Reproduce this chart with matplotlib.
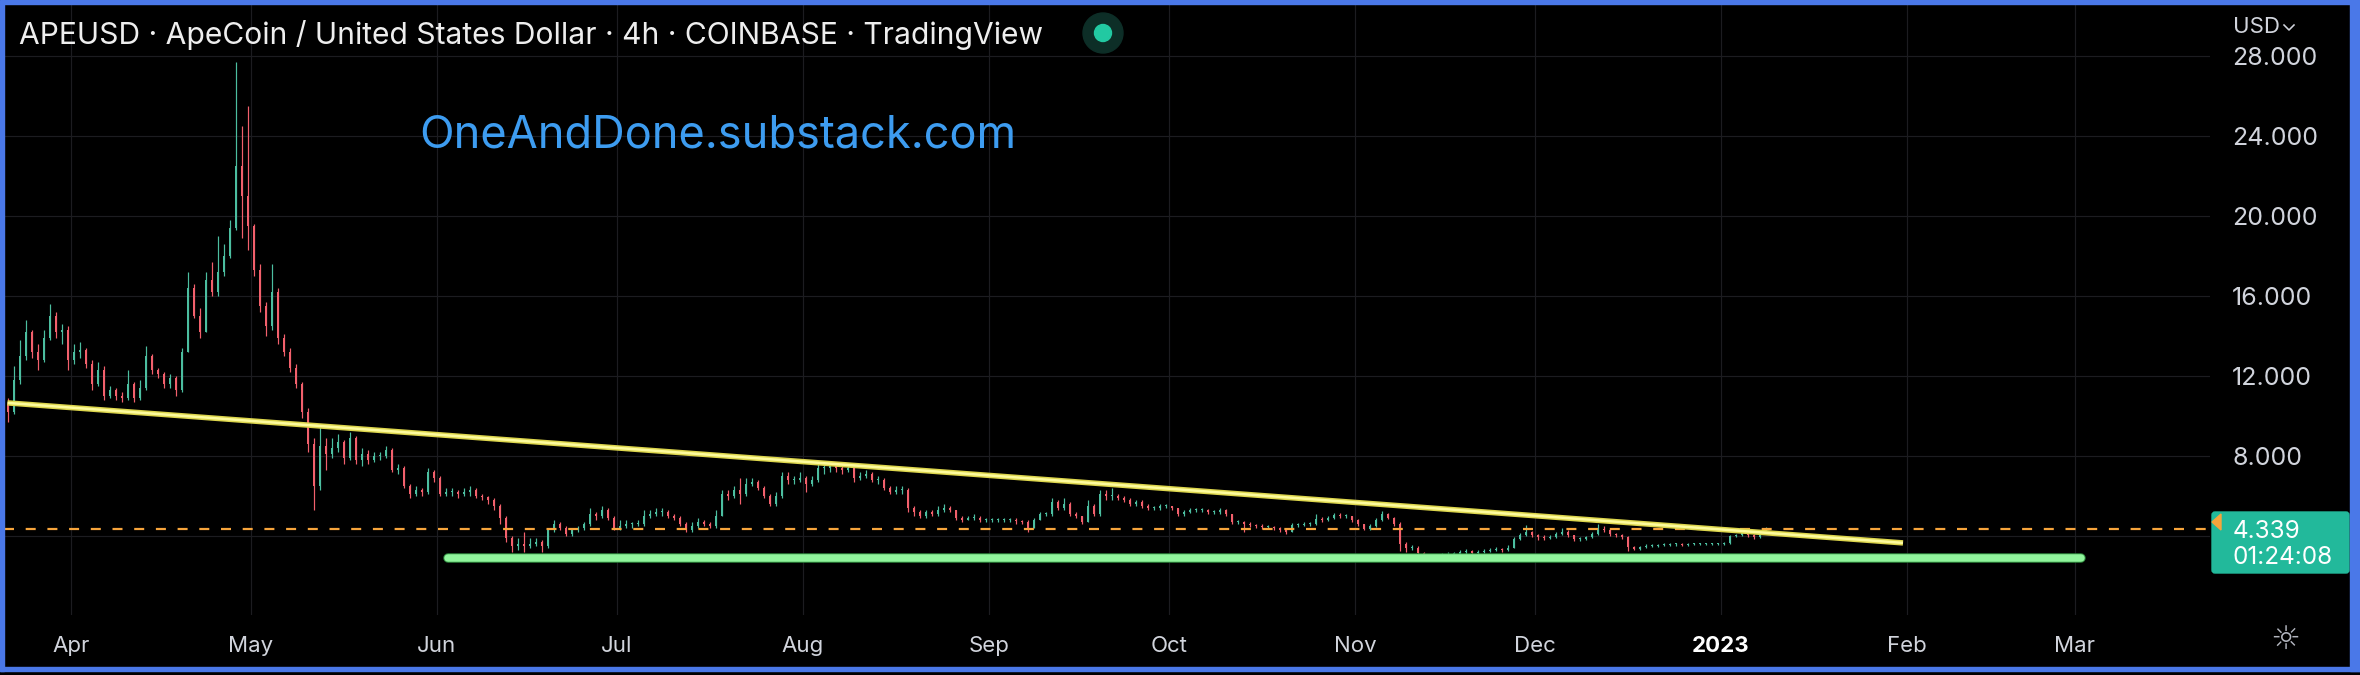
import numpy as np
import matplotlib
matplotlib.use('Agg')
import matplotlib.pyplot as plt
import matplotlib.dates as mdates
from matplotlib.patches import Rectangle, Circle, Polygon, FancyBboxPatch
from matplotlib.transforms import IdentityTransform

# ---- data (daily candles) ----
start_day = '2022-03-21'
first_open = 10.6

closes = [
    10.2, 11.8, 13.0, 14.2, 13.2, 12.8, 13.9, 15.0, 14.2, 14.3, 12.8,  # Mar 21-31
    13.2, 13.3, 12.6, 11.6, 12.3, 11.0, 11.3, 11.0, 10.9, 11.6, 10.9, 11.4, 13.0, 12.3, 12.1,
    11.6, 11.9, 11.3, 13.2, 16.4, 15.0, 14.2, 16.8, 16.2, 17.2, 18.0, 19.4, 22.5, 21.0, 19.5,  # Apr
    17.3, 15.5, 14.5, 16.2, 13.9, 13.2, 12.4, 11.6, 10.2, 8.6, 6.5, 8.5, 8.1, 8.4, 8.7, 7.9,
    8.9, 7.8, 8.1, 7.8, 8.0, 8.0, 8.3, 7.3, 7.4, 6.5, 6.1, 6.3, 6.2, 7.2, 6.9,  # May
    6.1, 6.2, 6.2, 6.1, 6.2, 6.3, 6.0, 5.95, 5.8, 5.5, 4.9, 3.9, 3.5, 3.6, 3.5,
    3.6, 3.7, 3.5, 4.3, 4.6, 4.4, 4.1, 4.3, 4.4, 4.6, 5.1, 5.0, 5.3, 4.9, 4.4,  # Jun
    4.5, 4.6, 4.6, 4.6, 5.0, 5.1, 5.2, 5.2, 5.0, 4.9, 4.6, 4.3, 4.5, 4.7, 4.6, 4.5,
    5.0, 6.1, 6.0, 6.3, 6.1, 6.6, 6.7, 6.4, 6.0, 5.6, 6.0, 7.0, 6.8, 6.8, 6.9,  # Jul
    6.6, 6.8, 7.4, 7.4, 7.5, 7.4, 7.3, 7.4, 6.9, 7.0, 7.1, 6.8, 6.8, 6.4, 6.2, 6.3,
    6.3, 5.4, 5.2, 5.0, 5.2, 5.1, 5.3, 5.4, 5.3, 4.9, 4.8, 4.9, 4.9, 4.8, 4.8,  # Aug
    4.8, 4.8, 4.8, 4.8, 4.75, 4.7, 4.4, 4.8, 5.1, 5.1, 5.7, 5.4, 5.6, 5.1, 5.0,
    4.7, 5.5, 5.1, 6.1, 6.0, 6.0, 5.9, 5.8, 5.6, 5.7, 5.5, 5.4, 5.4, 5.5, 5.5,  # Sep
    5.4, 5.1, 5.2, 5.3, 5.3, 5.3, 5.2, 5.2, 5.3, 5.1, 4.7, 4.7, 4.6, 4.55, 4.5, 4.45,
    4.45, 4.4, 4.3, 4.2, 4.55, 4.55, 4.6, 4.6, 4.85, 4.8, 4.9, 5.05, 5.0, 5.0, 4.8,  # Oct
    4.6, 4.35, 4.5, 4.8, 5.1, 4.9, 4.6, 3.6, 3.4, 3.4, 3.15, 3.0, 2.95, 3.0, 3.05,
    3.1, 3.1, 3.2, 3.25, 3.15, 3.2, 3.25, 3.3, 3.35, 3.3, 3.4, 3.85, 4.05, 4.2, 4.05,  # Nov
    3.95, 3.9, 3.95, 4.1, 4.2, 4.05, 3.85, 3.85, 3.95, 4.1, 4.35, 4.3, 4.1, 4.05, 3.95, 3.45,
    3.35, 3.45, 3.5, 3.5, 3.55, 3.55, 3.6, 3.6, 3.55, 3.6, 3.6, 3.6, 3.6, 3.6, 3.6,  # Dec
    3.65, 4.0, 4.05, 4.15, 4.05, 3.95, 4.15, 4.339,  # Jan 1-8
]

highs = [
    10.9, 12.5, 13.8, 14.8, 14.3, 13.6, 14.3, 15.6, 15.2, 14.6, 14.5,
    13.6, 13.7, 13.4, 12.8, 12.7, 12.5, 11.5, 11.4, 11.2, 12.3, 11.7, 11.8, 13.5, 13.1, 12.4,
    12.2, 12.1, 12.0, 13.4, 17.2, 16.6, 15.4, 17.2, 17.7, 19.0, 18.6, 19.8, 27.7, 24.5, 25.5,
    19.6, 17.6, 15.7, 17.6, 16.4, 14.1, 13.4, 12.6, 11.7, 10.4, 8.9, 9.6, 8.9, 8.9, 9.1, 8.8,
    9.2, 9.0, 8.4, 8.3, 8.2, 8.2, 8.5, 8.4, 7.6, 7.5, 6.6, 6.5, 6.4, 7.4, 7.3,
    7.0, 6.4, 6.4, 6.3, 6.4, 6.5, 6.4, 6.1, 6.0, 5.9, 5.6, 5.0, 4.0, 3.9, 4.2,
    3.9, 3.9, 3.8, 4.4, 4.8, 4.7, 4.5, 4.4, 4.5, 4.7, 5.4, 5.2, 5.5, 5.4, 5.0,
    4.8, 4.8, 4.7, 4.8, 5.3, 5.3, 5.4, 5.4, 5.3, 5.1, 5.0, 4.7, 4.7, 4.9, 4.8, 4.7,
    5.3, 6.3, 6.3, 6.5, 6.9, 6.9, 6.9, 6.8, 6.5, 6.1, 6.2, 7.2, 7.2, 7.0, 7.2,
    7.0, 7.0, 7.7, 7.6, 7.7, 7.6, 7.5, 7.6, 7.5, 7.2, 7.3, 7.2, 7.0, 6.9, 6.5, 6.5,
    6.5, 6.4, 5.5, 5.3, 5.3, 5.3, 5.5, 5.6, 5.5, 5.3, 5.0, 5.0, 5.1, 5.0, 4.9,
    4.9, 4.9, 4.9, 4.9, 4.9, 4.8, 4.8, 4.9, 5.2, 5.2, 5.9, 5.8, 5.9, 5.7, 5.2,
    5.0, 5.8, 5.6, 6.3, 6.3, 6.4, 6.1, 6.0, 5.9, 5.8, 5.8, 5.6, 5.5, 5.6, 5.6,
    5.5, 5.4, 5.3, 5.4, 5.4, 5.4, 5.35, 5.3, 5.4, 5.35, 5.1, 4.8, 4.75, 4.7, 4.6, 4.6,
    4.55, 4.5, 4.45, 4.35, 4.65, 4.65, 4.7, 4.7, 5.1, 4.95, 5.0, 5.15, 5.15, 5.1, 5.0,
    4.85, 4.6, 4.6, 4.9, 5.25, 5.15, 4.95, 4.7, 3.7, 3.55, 3.5, 3.2, 3.05, 3.1, 3.15,
    3.2, 3.2, 3.3, 3.35, 3.3, 3.3, 3.35, 3.4, 3.45, 3.4, 3.55, 3.95, 4.15, 4.55, 4.25,
    4.1, 4.05, 4.05, 4.2, 4.4, 4.3, 4.05, 3.95, 4.0, 4.2, 4.6, 4.5, 4.35, 4.15, 4.1, 4.0,
    3.5, 3.5, 3.6, 3.6, 3.6, 3.65, 3.65, 3.65, 3.65, 3.65, 3.65, 3.65, 3.65, 3.65, 3.65,
    3.7, 4.05, 4.1, 4.2, 4.2, 4.1, 4.2, 4.45,
]

lows = [
    9.7, 10.1, 11.6, 12.8, 12.9, 12.3, 12.7, 13.8, 13.9, 13.6, 12.3,
    12.6, 12.9, 12.4, 11.3, 11.5, 10.8, 10.9, 10.8, 10.7, 10.8, 10.7, 10.8, 11.3, 12.1, 11.9,
    11.4, 11.4, 11.0, 11.2, 13.2, 14.9, 13.9, 14.2, 16.0, 16.0, 17.0, 17.9, 19.3, 18.9, 18.3,
    17.0, 15.2, 14.0, 14.3, 13.6, 13.0, 12.2, 11.4, 9.9, 8.2, 5.3, 6.3, 7.3, 7.9, 8.2, 7.6,
    7.8, 7.6, 7.5, 7.6, 7.7, 7.8, 7.9, 7.2, 7.1, 6.4, 5.9, 6.0, 6.0, 6.1, 6.7,
    6.0, 6.0, 6.0, 5.9, 6.0, 6.0, 5.9, 5.8, 5.6, 5.3, 4.6, 3.7, 3.2, 3.3, 3.2,
    3.4, 3.5, 3.2, 3.4, 4.2, 4.3, 4.0, 4.0, 4.2, 4.3, 4.5, 4.8, 4.9, 4.8, 4.3,
    4.3, 4.4, 4.4, 4.5, 4.5, 4.9, 5.0, 5.0, 4.9, 4.8, 4.5, 4.2, 4.2, 4.4, 4.5, 4.4,
    4.4, 5.0, 5.8, 5.9, 5.6, 6.0, 6.5, 6.3, 5.9, 5.5, 5.5, 5.9, 6.6, 6.6, 6.7,
    6.2, 6.5, 6.7, 7.1, 7.2, 7.2, 7.1, 7.2, 6.7, 6.8, 6.9, 6.7, 6.6, 6.3, 6.1, 6.1,
    6.1, 5.2, 5.0, 4.9, 4.9, 5.0, 5.0, 5.2, 5.2, 4.8, 4.7, 4.8, 4.8, 4.7, 4.7,
    4.7, 4.7, 4.7, 4.7, 4.6, 4.6, 4.2, 4.4, 4.8, 5.0, 5.0, 5.3, 5.3, 5.0, 4.9,
    4.6, 4.7, 5.0, 5.0, 5.8, 5.8, 5.8, 5.7, 5.5, 5.5, 5.4, 5.3, 5.3, 5.3, 5.4,
    5.3, 5.0, 5.0, 5.15, 5.2, 5.2, 5.1, 5.1, 5.1, 5.0, 4.6, 4.6, 4.2, 4.45, 4.4, 4.35,
    4.35, 4.3, 4.2, 4.1, 4.2, 4.45, 4.5, 4.5, 4.55, 4.7, 4.75, 4.85, 4.9, 4.9, 4.7,
    4.5, 4.3, 4.3, 4.45, 4.75, 4.85, 4.5, 3.25, 3.2, 3.3, 3.1, 2.9, 2.8, 2.9, 2.95,
    3.0, 3.0, 3.05, 3.1, 3.05, 3.1, 3.15, 3.2, 3.25, 3.2, 3.25, 3.4, 3.8, 4.0, 3.95,
    3.8, 3.8, 3.85, 3.9, 4.05, 3.95, 3.75, 3.75, 3.8, 3.9, 4.05, 4.2, 4.0, 3.95, 3.85, 3.25,
    3.3, 3.3, 3.4, 3.45, 3.45, 3.5, 3.5, 3.5, 3.5, 3.5, 3.55, 3.55, 3.55, 3.55, 3.55,
    3.55, 3.6, 3.95, 4.0, 3.95, 3.85, 3.9, 4.1,
]

last_price = 4.339
countdown = '01:24:08'

price_ticks = [4, 8, 12, 16, 20, 24, 28]
price_labels = ['', '8.000', '12.000', '16.000', '20.000', '24.000', '28.000']
month_ticks = ['2022-04-01', '2022-05-01', '2022-06-01', '2022-07-01', '2022-08-01',
               '2022-09-01', '2022-10-01', '2022-11-01', '2022-12-01', '2023-01-01',
               '2023-02-01', '2023-03-01']
month_labels = ['Apr', 'May', 'Jun', 'Jul', 'Aug', 'Sep', 'Oct', 'Nov', 'Dec', '2023', 'Feb', 'Mar']

# drawn lines (endpoints)
trend_x = ['2022-03-21T10:00', '2023-01-31T08:00']
trend_y = [10.64, 3.64]
support_x = ['2022-06-02T21:00', '2023-03-02T02:00']
support_y = [2.885, 2.885]

title = 'APEUSD · ApeCoin / United States Dollar · 4h · COINBASE · TradingView'
watermark = 'OneAndDone.substack.com'

# ---- style ----
plt.rcParams['font.family'] = ['Inter', 'DejaVu Sans']
plt.rcParams['lines.scale_dashes'] = False
UP = '#4cbea0'
DOWN = '#f2606c'
GRID = '#1c1c20'
AXTXT = '#d1d4dc'
PX = 0.72  # points per pixel at dpi 100

W, H = 2360, 675
fig = plt.figure(figsize=(W / 100, H / 100), dpi=100, facecolor='black')

ax_l, ax_r, ax_t, ax_b = 4, 2210, 4, 615
ax = fig.add_axes([ax_l / W, 1 - ax_b / H, (ax_r - ax_l) / W, (ax_b - ax_t) / H])
ax.set_facecolor('black')

closes = np.array(closes)
highs = np.array(highs)
lows = np.array(lows)
opens = np.r_[first_open, closes[:-1]]
highs = np.maximum(highs, np.maximum(opens, closes))
lows = np.minimum(lows, np.minimum(opens, closes))

days = np.datetime64(start_day) + np.arange(len(closes)).astype('timedelta64[D]')
x = mdates.date2num(days) + 0.5
cols = np.where(closes >= opens, UP, DOWN)

ax.vlines(x, lows, highs, colors=cols, linewidth=1.2 * PX, zorder=2)
ax.bar(x, np.maximum(np.abs(closes - opens), 0.05), bottom=np.minimum(opens, closes),
       width=0.4, color=cols, linewidth=0, zorder=2)

# trend line (yellow) and support (green)
tx = mdates.date2num(np.array(trend_x, dtype='datetime64[m]'))
ax.plot(tx, trend_y, color='#dcd54c', lw=5.5 * PX, solid_capstyle='butt', zorder=4)
ax.plot(tx, trend_y, color='#fdfb9e', lw=2.5 * PX, solid_capstyle='butt', zorder=4)
sx = mdates.date2num(np.array(support_x, dtype='datetime64[m]'))
ax.plot(sx, support_y, color='#2f8a3e', lw=9.5 * PX, solid_capstyle='round', zorder=4)
ax.plot(sx, support_y, color='#90f59c', lw=7.5 * PX, solid_capstyle='round', zorder=4)

# last price dashed line
ax.axhline(last_price, color='#f7a53c', lw=2.2 * PX, dashes=(10 * PX, 11.7 * PX), zorder=3)

# axes calibration: Apr 1 sits at x=71px, 6 px per day; 20 px per dollar
apr1 = mdates.date2num(np.datetime64('2022-04-01'))
ax.set_xlim(apr1 + (ax_l - 71) / 6.0, apr1 + (ax_r - 71) / 6.0)
ax.set_ylim(8 + (455.7 - ax_b) / 20.0, 8 + (455.7 - ax_t) / 20.0)

ax.set_xticks(mdates.date2num(np.array(month_ticks, dtype='datetime64[D]')))
ax.set_xticklabels(month_labels)
ax.yaxis.tick_right()
ax.set_yticks(price_ticks)
ax.set_yticklabels(price_labels)
ax.grid(True, color=GRID, lw=1.2 * PX, zorder=0)
ax.set_axisbelow(True)
for s in ax.spines.values():
    s.set_visible(False)
ax.tick_params(axis='y', length=0, pad=16, labelsize=18, labelcolor=AXTXT)
ax.tick_params(axis='x', length=0, pad=15, labelsize=16, labelcolor=AXTXT)
for lbl in ax.get_xticklabels():
    if lbl.get_text() == '2023':
        lbl.set_fontweight('bold')
        lbl.set_color('white')

# ---- overlay texts and widgets (pixel coordinates from the top-left) ----
T = IdentityTransform()


def py(y):
    return H - y


fig.text(19, py(44), title, transform=T, fontsize=21.6, color='#eeeeee', va='baseline')
fig.text(419, py(148), watermark, transform=T, fontsize=32.5, color='#3d9cf0', va='baseline')

fig.patches.append(Circle((1103, py(33)), 20, transform=T, color='#0d2e27', zorder=5))
fig.patches.append(Circle((1103, py(33)), 8.5, transform=T, color='#22c9a2', zorder=6))

fig.text(2233, py(27), 'USD', transform=T, fontsize=16, color=AXTXT, va='center')
fig.lines.append(plt.Line2D([2284, 2289, 2294], [py(25), py(30), py(25)], transform=T,
                            color=AXTXT, lw=1.6 * PX))

fig.patches.append(FancyBboxPatch((2212, py(573)), 137, 61, boxstyle='round,pad=0,rounding_size=3',
                                  transform=T, color='#22b99b', zorder=5))
fig.patches.append(Polygon([(2212, py(522)), (2221, py(514)), (2221, py(530))], closed=True,
                           transform=T, color='#f7a53c', zorder=6))
fig.text(2233, py(532), f'{last_price:.3f}', transform=T, fontsize=17.5, color='white',
         va='center', zorder=7)
fig.text(2233, py(557), countdown, transform=T, fontsize=17.5, color='white', va='center', zorder=7)

fig.text(2285, py(639), '☼', transform=T, fontsize=24, color='#b2b5be', ha='center', va='center',
         family='DejaVu Sans')

# blue frame
BLUE = '#4a78e8'
fig.patches.append(Rectangle((0, py(4)), W, 4, transform=T, color=BLUE, zorder=10))
fig.patches.append(Rectangle((0, py(671)), W, 4, transform=T, color=BLUE, zorder=10))
fig.patches.append(Rectangle((0, py(671)), 4, 667, transform=T, color=BLUE, zorder=10))
fig.patches.append(Rectangle((2350, py(671)), 10, 667, transform=T, color=BLUE, zorder=10))

fig.savefig('out.png', dpi=100, facecolor='black')
